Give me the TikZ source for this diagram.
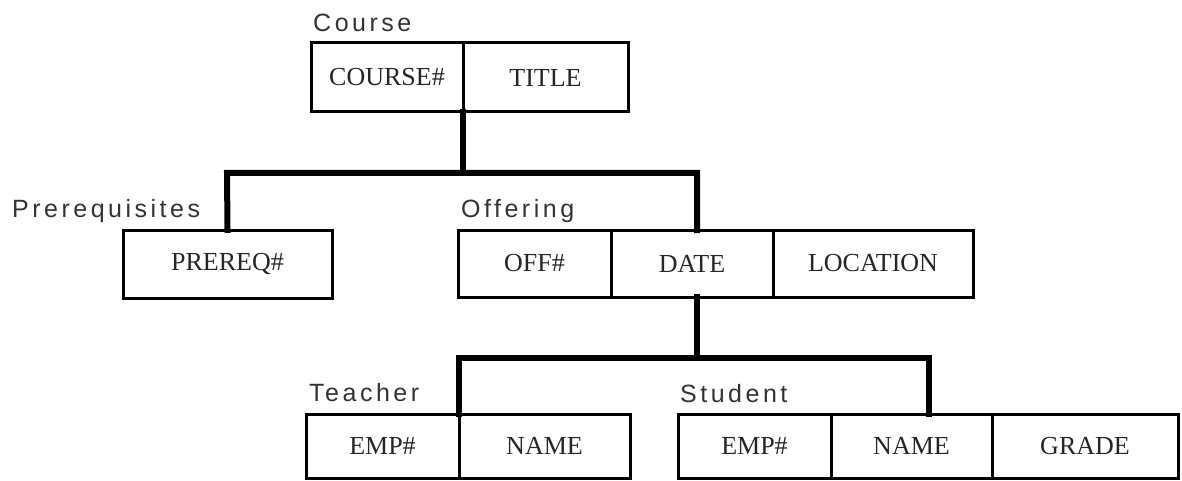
\documentclass[tikz,border=0pt]{standalone}
\usepackage{fontspec}
\setmainfont{Liberation Serif}
\newfontfamily\labfont[LetterSpace=14]{Liberation Sans}
\begin{document}
\begin{tikzpicture}[x=1pt,y=-1pt,
  cell/.style={draw=black,line width=3pt,rectangle,inner sep=0pt,outer sep=0pt,
    anchor=north west,font=\fontsize{26}{30}\selectfont,text=black!85},
  lab/.style={anchor=base west,inner sep=0pt,font=\labfont\fontsize{25}{29}\selectfont,text=black!80},
  conn/.style={draw=black,line width=6pt,line join=miter,line cap=rect}]
\useasboundingbox (0,0) rectangle (1182,481);
% Course
\node[cell,minimum width=152pt,minimum height=69pt] (c1) at (311,43) {COURSE\#};
\node[cell,minimum width=165pt,minimum height=69pt] (c2) at (463,43) {TITLE};
\node[lab] (lcourse) at (313,32) {Course};
% Prerequisites
\node[cell,minimum width=209pt,minimum height=68pt] (p1) at (123,230) {PREREQ\#};
\node[lab] (lprereq) at (12,217) {Prerequisites};
% Offering
\node[cell,minimum width=153pt,minimum height=67pt] (o1) at (458,230) {OFF\#};
\node[cell,minimum width=162pt,minimum height=67pt] (o2) at (611,230) {DATE};
\node[cell,minimum width=200pt,minimum height=67pt] (o3) at (773,230) {LOCATION};
\node[lab] (loff) at (461,217) {Offering};
% Teacher
\node[cell,minimum width=153pt,minimum height=64pt] (t1) at (306,414) {EMP\#};
\node[cell,minimum width=171pt,minimum height=64pt] (t2) at (459,414) {NAME};
\node[lab] (lteach) at (309,401) {Teacher};
% Student
\node[cell,minimum width=153pt,minimum height=64pt] (s1) at (678,414) {EMP\#};
\node[cell,minimum width=161pt,minimum height=64pt] (s2) at (831,414) {NAME};
\node[cell,minimum width=186pt,minimum height=64pt] (s3) at (992,414) {GRADE};
\node[lab] (lstud) at (680,402) {Student};
% junctions
\coordinate (ja) at (463,173);
\coordinate (jl) at (227,173);
\coordinate (jr) at (697,173);
\coordinate (jb) at (697,358);
\coordinate (jt) at (459,358);
\coordinate (js) at (929,358);
% connectors
\draw[conn] (c1.south east) -- (ja);
\draw[conn] (p1.north) -- (jl) -- (jr) -- (jr |- o2.north);
\draw[conn] (jb |- o2.south) -- (jb);
\draw[conn] (t1.north east) -- (jt) -- (js) -- (js |- s2.north);
\end{tikzpicture}
\end{document}
